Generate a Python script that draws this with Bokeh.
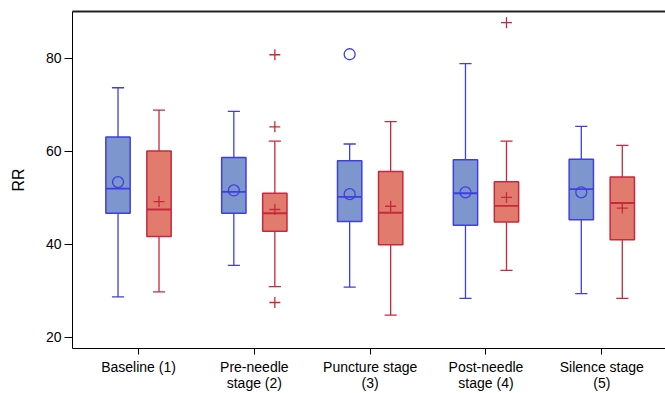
from bokeh.plotting import figure
from bokeh.models import ColumnDataSource, Range1d, FixedTicker, LinearAxis
from bokeh.transform import dodge
from bokeh.embed import file_html
from bokeh.resources import INLINE

categories = ["Baseline (1)", "Pre-needle\nstage (2)", "Puncture stage\n(3)",
              "Post-needle\nstage (4)", "Silence stage\n(5)"]

# Group 1 (blue)
a_low = [28.7, 35.5, 30.8, 28.4, 29.4]
a_q1 = [46.7, 46.7, 44.9, 44.1, 45.3]
a_med = [52.0, 51.3, 50.2, 51.0, 51.9]
a_q3 = [63.1, 58.7, 58.0, 58.2, 58.3]
a_high = [73.7, 68.6, 61.6, 78.9, 65.4]
a_mean = [53.4, 51.6, 50.8, 51.2, 51.2]
a_out_cat = ["Puncture stage\n(3)"]
a_out_val = [80.9]

# Group 2 (red)
b_low = [29.8, 30.9, 24.8, 34.4, 28.4]
b_q1 = [41.7, 42.8, 39.9, 44.8, 41.0]
b_med = [47.5, 46.7, 46.8, 48.3, 48.9]
b_q3 = [60.1, 51.0, 55.7, 53.5, 54.5]
b_high = [68.9, 62.2, 66.4, 62.2, 61.3]
b_mean = [49.2, 47.5, 48.2, 50.1, 47.8]
b_out_cat = ["Pre-needle\nstage (2)", "Pre-needle\nstage (2)", "Pre-needle\nstage (2)",
             "Post-needle\nstage (4)"]
b_out_val = [80.8, 65.3, 27.5, 87.7]

y_ticks = [20, 40, 60, 80]

FONT = "Liberation Sans"
BLUE_LINE = "#3f3fe0"
BLUE_FILL = "#7d97ce"
RED_LINE = "#c8283c"
RED_FILL = "#e07b6e"

OFF = 0.177
BW = 0.21
CAP = 0.105

pos = [i + 1 for i in range(len(categories))]

p = figure(width=665, height=393, output_backend="svg", toolbar_location=None,
           x_range=Range1d(0.43, 5.55), y_range=Range1d(17.6, 90.1),
           min_border_left=72, min_border_right=0, min_border_top=11, min_border_bottom=0)
p.outline_line_color = None
p.xgrid.visible = False
p.ygrid.visible = False


def draw(low, q1, med, q3, high, mean, out_cat, out_val, off, line, fill, mean_marker):
    src = ColumnDataSource(dict(x=pos, low=low, q1=q1, med=med, q3=q3, high=high, mean=mean))
    xd = dodge("x", off)
    p.segment(x0=xd, x1=xd, y0="q3", y1="high", source=src, line_color=line, line_width=1.3)
    p.segment(x0=xd, x1=xd, y0="low", y1="q1", source=src, line_color=line, line_width=1.3)
    p.segment(x0=dodge("x", off - CAP / 2), x1=dodge("x", off + CAP / 2), y0="high", y1="high",
              source=src, line_color=line, line_width=1.3)
    p.segment(x0=dodge("x", off - CAP / 2), x1=dodge("x", off + CAP / 2), y0="low", y1="low",
              source=src, line_color=line, line_width=1.3)
    p.vbar(x=xd, width=BW, bottom="q1", top="q3", source=src, fill_color=fill,
           line_color=line, line_width=1.5)
    p.segment(x0=dodge("x", off - BW / 2), x1=dodge("x", off + BW / 2), y0="med", y1="med",
              source=src, line_color=line, line_width=1.8)
    p.scatter(x=xd, y="mean", source=src, marker=mean_marker, size=11, fill_color=None,
              line_color=line, line_width=1.3)
    osrc = ColumnDataSource(dict(x=[categories.index(c) + 1 for c in out_cat], y=out_val))
    p.scatter(x=dodge("x", off), y="y", source=osrc, marker=mean_marker, size=11,
              fill_color=None, line_color=line, line_width=1.3)


draw(a_low, a_q1, a_med, a_q3, a_high, a_mean, a_out_cat, a_out_val, -OFF,
     BLUE_LINE, BLUE_FILL, "circle")
draw(b_low, b_q1, b_med, b_q3, b_high, b_mean, b_out_cat, b_out_val, OFF,
     RED_LINE, RED_FILL, "cross")

# axes
xa = p.xaxis[0]
xa.ticker = FixedTicker(ticks=pos)
xa.major_label_overrides = {i + 1: c for i, c in enumerate(categories)}
xa.minor_tick_line_color = None
xa.major_tick_out = 6
xa.major_tick_in = 0
xa.major_label_standoff = 4
xa.major_label_text_font = FONT
xa.major_label_text_font_size = "14px"
xa.major_label_text_line_height = 1.0
xa.major_label_text_color = "black"
xa.axis_line_color = "black"

ya = p.yaxis[0]
ya.ticker = FixedTicker(ticks=y_ticks)
ya.minor_tick_line_color = None
ya.major_tick_out = 8
ya.major_tick_in = 0
ya.major_label_standoff = 3
ya.major_label_text_font = FONT
ya.major_label_text_font_size = "14px"
ya.major_label_text_color = "black"
ya.axis_label = "RR"
ya.axis_label_text_font = FONT
ya.axis_label_text_font_size = "16px"
ya.axis_label_text_font_style = "normal"
ya.axis_label_text_color = "black"
ya.axis_label_standoff = 16
ya.axis_line_color = "black"

top = LinearAxis(ticker=FixedTicker(ticks=[]), major_label_text_font_size="0px",
                 major_tick_out=0, major_tick_in=0, minor_tick_out=0, minor_tick_in=0,
                 axis_line_width=2, axis_line_color="#222222")
p.add_layout(top, "above")

open("out.html", "w").write(file_html(p, INLINE))
